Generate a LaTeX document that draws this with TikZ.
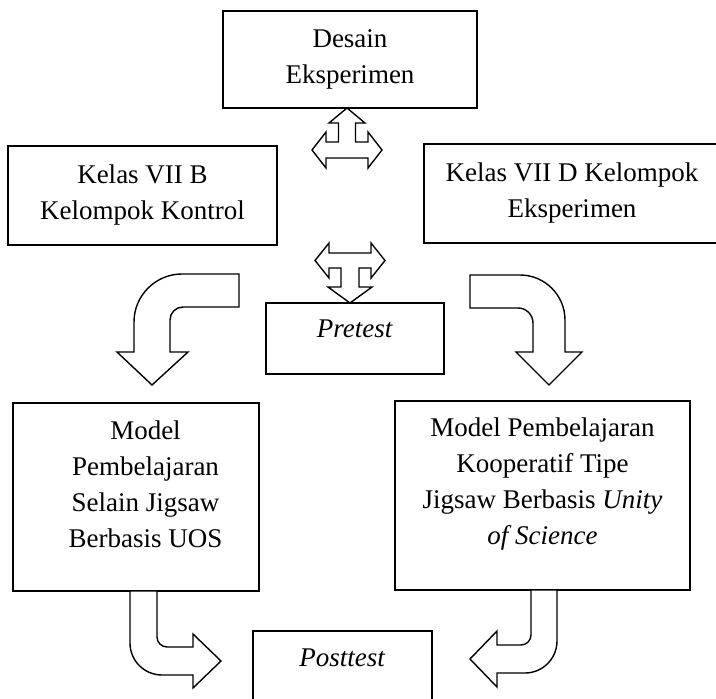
\documentclass[tikz,border=0pt]{standalone}
\usepackage{fontspec}
\setmainfont{Liberation Serif}
\usepackage{tikz}
\usetikzlibrary{arrows}

\tikzset{
  kotak/.style={draw, line width=1.6pt, inner sep=0pt, align=center,
    font=\fontsize{27}{36}\selectfont},
  panah/.style={draw, line width=1.4pt, fill=white, line join=miter}
}

\begin{document}
\begin{tikzpicture}[x=1pt,y=-1pt]
        \useasboundingbox (0,0) rectangle (716,699); % edit here for the page size

        % the boxes
        \node[kotak, minimum width=254pt, minimum height=97pt] (desain) at (350,59.5) {Desain\\Eksperimen};
        \node[kotak, minimum width=269pt, minimum height=99pt] (kontrol) at (142.5,195.5) {Kelas VII B\\Kelompok Kontrol};
        \node[kotak, minimum width=296pt, minimum height=99pt] (eksperimen) at (572,193.5) {Kelas VII D Kelompok\\Eksperimen};
        \node[kotak, minimum width=178pt, minimum height=71pt, text depth=20pt] (pretest) at (355,338.5) {\textit{Pretest}};
        \node[kotak, minimum width=246pt, minimum height=188pt, text depth=25pt] (selain) at (136,497)
        {\hspace*{19pt}Model\\\hspace*{19pt}Pembelajaran\\\hspace*{19pt}Selain Jigsaw\\\hspace*{19pt}Berbasis UOS};
        \node[kotak, minimum width=295pt, minimum height=189pt, text depth=28pt] (kooperatif) at (542.5,495.5)
        {Model Pembelajaran\\Kooperatif Tipe\\Jigsaw Berbasis \textit{Unity}\\\textit{of Science}};
        \node[kotak, minimum width=179pt, minimum height=74pt, text depth=21pt] (posttest) at (342.5,668) {\textit{Posttest}};

        % arrow up, left and right
        \draw[panah] (312,150) -- (326,132) -- (326,142) -- (338.5,142) -- (338.5,123) -- (329,123)
        -- (347,108) -- (365,123) -- (355.5,123) -- (355.5,142) -- (368,142) -- (368,132)
        -- (382,150) -- (368,168) -- (368,158) -- (326,158) -- (326,168) -- cycle;

        % arrow down, left and right
        \draw[panah] (315,260.5) -- (329,243) -- (329,253) -- (371,253) -- (371,243) -- (385,260.5)
        -- (371,278) -- (371,268) -- (359,268) -- (359,287) -- (372,287) -- (350,303)
        -- (328,287) -- (341,287) -- (341,268) -- (329,268) -- (329,278) -- cycle;

        % bent arrows to the models
        \draw[panah] (239,274) -- (182,274) .. controls (155.5,274) and (134,295.5) .. (134,322)
        -- (134,352) -- (117,352) -- (152,385) -- (188,352) -- (170,352) -- (170,320)
        .. controls (170,312.8) and (175.8,307) .. (183,307) -- (239,307) -- cycle;
        \draw[panah] (470,275) -- (520,275) .. controls (544.8,275) and (565,295.2) .. (565,320)
        -- (565,352) -- (582,352) -- (549,385) -- (516,352) -- (533,352) -- (533,323)
        .. controls (533,314.7) and (526.3,308) .. (518,308) -- (470,308) -- cycle;

        % bent arrows to the posttest
        \draw[panah] (130,591) -- (130,643) .. controls (130,660.7) and (144.3,675) .. (162,675)
        -- (193,675) -- (193,688) -- (221,661) -- (193,634) -- (193,647) -- (167,647)
        .. controls (161.5,647) and (157,642.5) .. (157,637) -- (157,591) -- cycle;
        \draw[panah] (531,590) -- (531,635) .. controls (531,640.5) and (526.5,645) .. (521,645)
        -- (497,645) -- (497,631) -- (470,659) -- (497,687) -- (497,673) -- (525,673)
        .. controls (542.7,673) and (557,658.7) .. (557,641) -- (557,590) -- cycle;
\end{tikzpicture}
\end{document}
